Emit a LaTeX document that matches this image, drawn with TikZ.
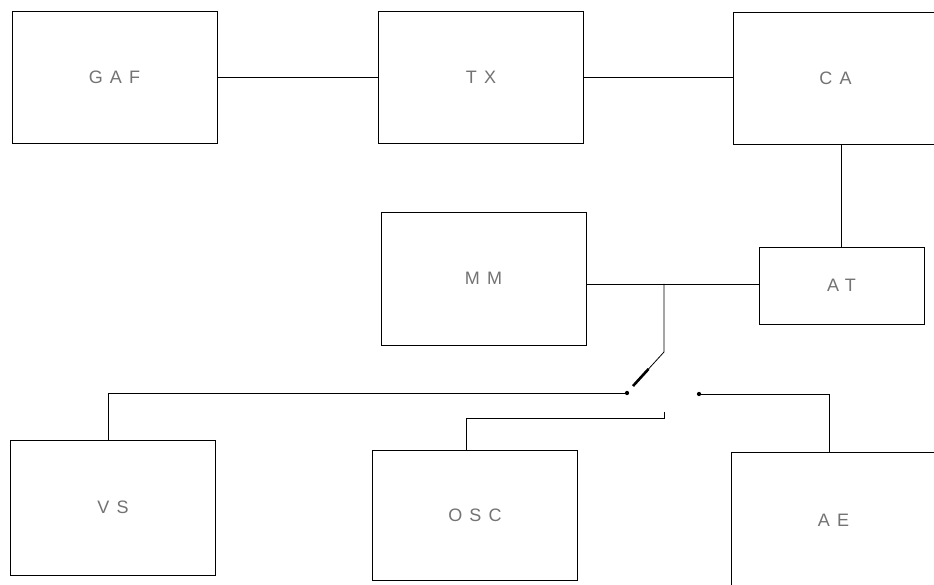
\documentclass[tikz,border=0pt]{standalone}
\usepackage{fontspec}
\usetikzlibrary{calc}
\newfontfamily\blockfont[LetterSpace=40]{Liberation Sans}
\definecolor{inkgray}{gray}{0.45}
\tikzset{
  blk/.style={draw, line width=0.9pt, minimum width=205pt, minimum height=132pt,
    inner sep=0pt, font=\blockfont\fontsize{18}{21}\selectfont, text=inkgray},
  wire/.style={line width=0.8pt},
  contact/.style={circle, fill, inner sep=1.5pt}
}
\begin{document}
\begin{tikzpicture}[x=1pt,y=-1pt]
\useasboundingbox (0,0) rectangle (934,585);
\clip (0,0) rectangle (934,585);
\fill[white] (0,0) rectangle (934,585);

\node[blk] (GAF) at (114.5,77.5) {GAF};
\node[blk] (TX) at (481,77.5) {TX};
\node[blk] (CA) at (835.5,78.5) {CA};
\node[blk, minimum height=133pt] (MM) at (483.5,278.5) {MM};
\node[blk, minimum width=165pt, minimum height=77pt] (AT) at (841.5,285.5) {AT};
\node[blk, minimum height=135pt] (VS) at (113,507.5) {VS};
\node[blk, minimum height=130pt] (OSC) at (475,515) {OSC};
\node[blk, minimum height=136pt] (AE) at (833.5,520) {AE};

\draw[wire] (GAF) -- (TX);
\draw[wire] (TX.east) -- (TX.east -| CA.west);
\draw[wire] (CA.south -| AT.north) -- (AT.north);
\draw[wire] (AT.west |- 0,284) -- (MM.east |- 0,284);

% switch
\coordinate (junc) at (664,284);
\coordinate (pivot) at (664,352);
\coordinate (tip) at (633,386);
\draw[wire] (junc) -- (pivot) -- (tip);
\draw[line width=2.6pt] ($(pivot)!0.5!(tip)$) -- (tip);

\node[contact] (cVS) at (627,393) {};
\node[contact] (cAE) at (699,394) {};
\coordinate (cOSC) at (664,418);

\draw[wire] ([xshift=-5pt]VS.north) |- (cVS);
\draw[wire] ([xshift=-9pt]OSC.north) |- (cOSC) -- ++(0,-6);
\draw[wire] ([xshift=-4pt]AE.north) |- (cAE);
\end{tikzpicture}
\end{document}
